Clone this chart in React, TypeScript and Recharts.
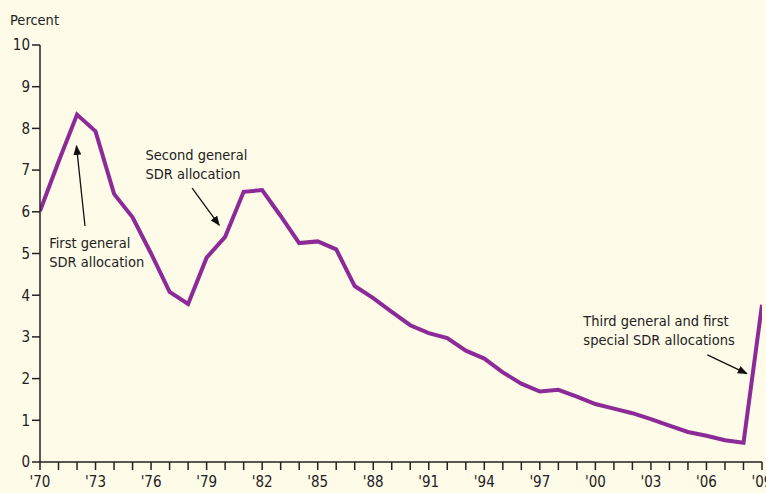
import React from 'react';
import { LineChart, Line, XAxis, YAxis, ReferenceLine, ReferenceDot } from 'recharts';

const years = [1970,1971,1972,1973,1974,1975,1976,1977,1978,1979,1980,1981,1982,1983,1984,1985,1986,1987,1988,1989,1990,1991,1992,1993,1994,1995,1996,1997,1998,1999,2000,2001,2002,2003,2004,2005,2006,2007,2008,2009];
const percent = [6.02,7.2,8.33,7.93,6.43,5.87,5.0,4.08,3.79,4.9,5.4,6.48,6.52,5.9,5.25,5.29,5.1,4.22,3.93,3.6,3.28,3.09,2.97,2.67,2.48,2.15,1.88,1.69,1.73,1.57,1.39,1.28,1.17,1.03,0.87,0.72,0.63,0.52,0.46,3.77];
const yTicks = [0,1,2,3,4,5,6,7,8,9,10];
const xTicks = years;
const xLabelYears = [1970,1973,1976,1979,1982,1985,1988,1991,1994,1997,2000,2003,2006,2009];

const data = years.map((y, i) => ({ year: y, value: percent[i] }));

const FONT = '"DejaVu Sans Condensed", "Liberation Sans", Arial, sans-serif';
const LINE = '#8c2a98';
const INK = '#222';

const annotations = [
  { x: 1970.5, y: 5.13, lines: ['First general', 'SDR allocation'] },
  { x: 1975.7, y: 7.25, lines: ['Second general', 'SDR allocation'] },
  { x: 1999.35, y: 3.25, lines: ['Third general and first', 'special SDR allocations'] },
];

const arrows = [
  { from: { x: 1972.43, y: 5.66 }, to: { x: 1971.97, y: 7.58 } },
  { from: { x: 1978.22, y: 6.57 }, to: { x: 1979.68, y: 5.68 } },
  { from: { x: 2006.05, y: 2.57 }, to: { x: 2008.18, y: 2.12 } },
];

const fmtYear = (v: number) => (xLabelYears.includes(v) ? "'" + String(v).slice(2) : '');

const AnnotLabel = (lines: string[]) => (props: any) => {
  const vb = props.viewBox || {};
  const cx = vb.cx ?? vb.x;
  const cy = vb.cy ?? vb.y;
  return (
    <text x={cx} y={cy} fill={INK} fontSize={14.5} fontFamily={FONT} textAnchor="start">
      {lines.map((l, i) => (
        <tspan key={i} x={cx} dy={i === 0 ? 0 : 19}>{l}</tspan>
      ))}
    </text>
  );
};

export default function App() {
  return (
    <div style={{ position: 'absolute', left: 0, top: 0, width: 766, height: 493, background: '#fefbe8', overflow: 'hidden' }}>
      <div style={{ position: 'absolute', left: 10, top: 12, fontFamily: FONT, fontSize: 14.5, color: INK }}>Percent</div>
      <LineChart width={766} height={493} data={data} margin={{ top: 45, right: 4, left: 0, bottom: 0 }}>
        <defs>
          <marker id="arrowhead" markerWidth="10" markerHeight="8" refX="9" refY="4" orient="auto" markerUnits="userSpaceOnUse">
            <path d="M0,0 L10,4 L0,8 Z" fill="#111" />
          </marker>
        </defs>
        <XAxis
          dataKey="year"
          type="number"
          domain={[1970, 2009]}
          ticks={xTicks}
          interval={0}
          tickFormatter={fmtYear}
          height={31}
          tickSize={8}
          axisLine={{ stroke: '#222', strokeWidth: 1.5 }}
          tickLine={{ stroke: '#222', strokeWidth: 1.5 }}
          tick={{ fill: INK, fontSize: 15, fontFamily: FONT, dy: 4 }}
          allowDataOverflow
        />
        <YAxis
          type="number"
          domain={[0, 10]}
          ticks={yTicks}
          width={40}
          tickSize={8}
          axisLine={{ stroke: '#222', strokeWidth: 1.5 }}
          tickLine={{ stroke: '#222', strokeWidth: 1.5 }}
          tick={{ fill: INK, fontSize: 15, fontFamily: FONT }}
        />
        <Line type="linear" dataKey="value" stroke={LINE} strokeWidth={4} dot={false} isAnimationActive={false} strokeLinejoin="miter" />
        {arrows.map((a, i) => (
          <ReferenceLine key={'a' + i} segment={[a.from, a.to]} stroke="#111" strokeWidth={1.3} markerEnd="url(#arrowhead)" ifOverflow="visible" />
        ))}
        {annotations.map((a, i) => (
          <ReferenceDot key={'t' + i} x={a.x} y={a.y} r={0} fill="none" stroke="none" ifOverflow="visible" label={AnnotLabel(a.lines)} />
        ))}
      </LineChart>
    </div>
  );
}
